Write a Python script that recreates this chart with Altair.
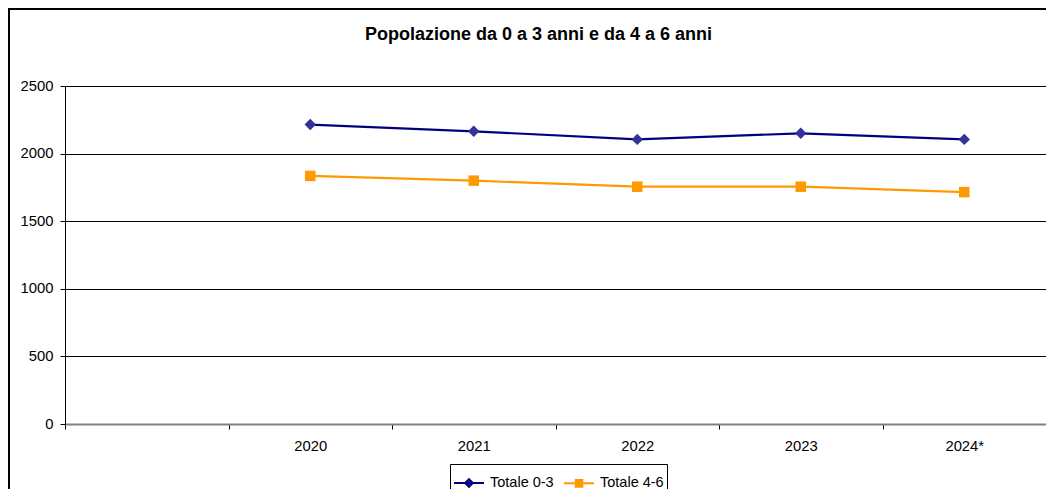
import altair as alt
import pandas as pd

years = ["2020", "2021", "2022", "2023", "2024*"]
domain_x = ["_", "2020", "2021", "2022", "2023", "2024*"]
tot_0_3 = [2215, 2165, 2105, 2150, 2105]
tot_4_6 = [1835, 1800, 1755, 1755, 1715]
series = ["Totale 0-3", "Totale 4-6"]

df = pd.DataFrame({
    "anno": years * 2,
    "valore": tot_0_3 + tot_4_6,
    "serie": [series[0]] * len(years) + [series[1]] * len(years),
})

FONT = "Liberation Sans"
W, H = 981, 338

xenc = alt.X(
    "anno:N",
    bandPosition=0.5,
    scale=alt.Scale(type="band", domain=domain_x, paddingInner=0, paddingOuter=0),
    axis=alt.Axis(
        title=None, labelAngle=0, tickBand="extent", grid=False,
        domainColor="#808080", domainWidth=2, tickColor="black", tickSize=5,
        labelFontSize=14.8, labelFont=FONT, labelColor="black", labelPadding=9,
        labelExpr="datum.value == '_' ? '' : datum.label",
    ),
)
yenc = alt.Y(
    "valore:Q",
    scale=alt.Scale(domain=[0, 2500], nice=False),
    axis=alt.Axis(
        title=None, values=[0, 500, 1000, 1500, 2000, 2500], grid=True, format="d",
        gridColor="black", gridWidth=1, domainColor="black", tickColor="black",
        tickSize=5, labelFontSize=14.8, labelFont=FONT, labelColor="black", labelPadding=7,
    ),
)

base = alt.Chart(df)

frame = base.mark_rect(fill=None, stroke="black", strokeWidth=1.5).encode(
    x=alt.value(-56.25), x2=alt.value(W + 200),
    y=alt.value(-77.25), y2=alt.value(H + 300),
)

s1 = base.transform_filter(alt.datum.serie == series[0])
s2 = base.transform_filter(alt.datum.serie == series[1])

line1 = s1.mark_line(strokeWidth=2.2, color="#000080").encode(x=xenc, y=yenc)
line2 = s2.mark_line(strokeWidth=2.2, color="#FF9900").encode(x=xenc, y=yenc)

pts1 = s1.mark_point(shape="diamond", filled=True, size=130, color="#333399", opacity=1).encode(x=xenc, y=yenc)
pts2 = s2.mark_point(shape="square", filled=True, size=110, color="#FF9900", opacity=1).encode(x=xenc, y=yenc)

diamond_path = "M-1,0L1,0M0,-0.26L0.26,0L0,0.26L-0.26,0Z"
square_path = "M-1,0L1,0M-0.22,-0.22L0.22,-0.22L0.22,0.22L-0.22,0.22Z"

leg_cfg = dict(
    title=None, symbolOpacity=1, orient="none", legendX=385, legendY=378, direction="horizontal",
    symbolSize=900, symbolStrokeWidth=2, labelFontSize=14.5, labelFont=FONT,
    labelColor="black", strokeColor="black", padding=3, fillColor="white",
    columnPadding=6, labelOffset=5, cornerRadius=0,
)

leg = base.mark_point(filled=True, opacity=0, strokeWidth=2).encode(
    x=xenc, y=yenc,
    fill=alt.Fill("serie:N", scale=alt.Scale(domain=series, range=["#333399", "#FF9900"]),
                  legend=alt.Legend(**leg_cfg)),
    stroke=alt.Stroke("serie:N", scale=alt.Scale(domain=series, range=["#000080", "#FF9900"]),
                      legend=alt.Legend(**leg_cfg)),
    shape=alt.Shape("serie:N", scale=alt.Scale(domain=series, range=[diamond_path, square_path]),
                    legend=alt.Legend(**leg_cfg)),
)

chart = alt.layer(frame, line1, line2, pts1, pts2, leg).properties(
    width=W, height=H,
    background="white",
    title=alt.TitleParams(
        "Popolazione da 0 a 3 anni e da 4 a 6 anni",
        font=FONT, fontSize=18, fontWeight="bold", color="black",
        anchor="middle", frame="group", dx=-17, offset=-50, baseline="alphabetic",
    ),
    autosize=alt.AutoSizeParams(type="none"),
    padding={"left": 57, "top": 78, "right": 0, "bottom": 65},
).configure_view(stroke=None).configure_legend(
    symbolSize=900, symbolStrokeWidth=2, symbolOpacity=1, labelFontSize=14.5, labelFont=FONT,
    labelColor="black", strokeColor="black", padding=3, fillColor="white",
    columnPadding=6, labelOffset=5, cornerRadius=0,
)

chart.save("out.html", embed_options={"renderer": "svg", "actions": False})
